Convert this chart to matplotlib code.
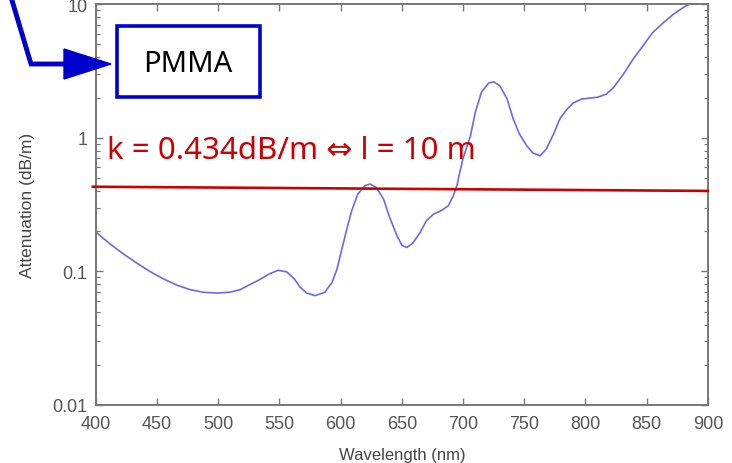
## PMMA 光纤衰减谱
import matplotlib
matplotlib.use('Agg')
import matplotlib.pyplot as plt
from matplotlib.ticker import FixedLocator, FixedFormatter, LogLocator, NullFormatter
from matplotlib.patches import Rectangle
from matplotlib.lines import Line2D

# 波长 (nm) / 衰减 (dB/m) —— 从图上读出来的点
wavelength = [400, 411, 422, 433, 444, 455, 466, 477, 488, 499, 510, 518, 525, 533, 542,
              549, 556, 562, 567, 572, 579, 587, 593, 597, 601, 605, 609, 614, 620, 624,
              629, 635, 640, 646, 650, 654, 659, 665, 670, 676, 682, 688, 692, 695, 697,
              700, 706, 710, 715, 721, 725, 730, 736, 741, 746, 752, 757, 763, 768, 774,
              779, 785, 790, 797, 804, 810, 817, 823, 831, 839, 847, 855, 864, 872, 880,
              885, 892]
attenuation = [0.197, 0.162, 0.136, 0.116, 0.100, 0.088, 0.079, 0.073, 0.0697, 0.0688, 0.0700, 0.073, 0.079, 0.086, 0.096,
               0.102, 0.099, 0.088, 0.076, 0.069, 0.0658, 0.0697, 0.0829, 0.104, 0.147, 0.207, 0.284, 0.379, 0.438, 0.451,
               0.425, 0.348, 0.254, 0.185, 0.157, 0.151, 0.163, 0.196, 0.239, 0.269, 0.284, 0.310, 0.368, 0.438, 0.535,
               0.70, 1.03, 1.55, 2.19, 2.57, 2.62, 2.45, 1.95, 1.38, 1.07, 0.871, 0.769, 0.733, 0.823, 1.07,
               1.38, 1.64, 1.82, 1.95, 1.98, 2.01, 2.12, 2.38, 2.99, 3.88, 4.88, 6.14, 7.30, 8.42, 9.45,
               10.0, 11.0]

# k 线两端
k_x = [397.5, 900]
k_y = [0.43, 0.40]

x_ticks = [400, 450, 500, 550, 600, 650, 700, 750, 800, 850, 900]
y_ticks = [0.01, 0.1, 1, 10]
y_labels = ['0.01', '0.1', '1', '10']

fig = plt.figure(figsize=(7.32, 4.64), dpi=100)
ax = fig.add_axes([0.131, 0.125, 0.836, 0.864])

ax.plot(wavelength, attenuation, color='#6a6ae8', linewidth=1.2)
ax.plot(k_x, k_y, color='#cc0000', linewidth=1.9, clip_on=False, zorder=3)

ax.set_yscale('log')
ax.set_xlim(400, 900)
ax.set_ylim(0.01, 10)

gray = '#555555'
ax.xaxis.set_major_locator(FixedLocator(x_ticks))
ax.yaxis.set_major_locator(FixedLocator(y_ticks))
ax.yaxis.set_major_formatter(FixedFormatter(y_labels))
ax.yaxis.set_minor_locator(LogLocator(base=10, subs=range(2, 10)))
ax.yaxis.set_minor_formatter(NullFormatter())

ax.tick_params(which='both', direction='in', top=True, right=True, colors='#777777',
               labelcolor=gray, labelsize=13)
ax.tick_params(which='major', length=5, width=1)
ax.tick_params(which='minor', length=3, width=0.8)
for lab in ax.get_xticklabels() + ax.get_yticklabels():
    lab.set_family('Liberation Sans')
ax.tick_params(axis='x', pad=7)
ax.tick_params(axis='y', pad=6)

for s in ax.spines.values():
    s.set_color('#777777')
    s.set_linewidth(1.4)

ax.set_xlabel('Wavelength (nm)', fontsize=12, color='#444444', family='Liberation Sans')
ax.set_ylabel('Attenuation (dB/m)', fontsize=12.5, color='#444444', family='Liberation Sans')
ax.xaxis.set_label_coords(0.5, -0.105)
ax.yaxis.set_label_coords(-0.099, 0.5)

## 红色说明文字
ax.text(409, 0.705, 'k = 0.434dB/m \u21d4 l = 10 m', color='#cc0000', fontsize=22.5,
        family=['Noto Sans', 'DejaVu Sans'], va='baseline', ha='left')

## PMMA 框 + 箭头 (像素坐标)
W, H = 732, 464
def px(x, y):
    return x / W, 1 - y / H

blue = '#0000cc'
x0, y0 = px(117, 98)
box = Rectangle((x0, y0), (260 - 117) / W, (98 - 27) / H, transform=fig.transFigure,
                fill=False, edgecolor=blue, linewidth=2.6, zorder=5)
fig.add_artist(box)
fig.text(*px(188, 64), 'PMMA', fontsize=21, color='black', family='Noto Sans',
         ha='center', va='center')

p1, p2, p3 = px(11, -2), px(31, 65), px(66, 65)
fig.add_artist(Line2D([p1[0], p2[0], p3[0]], [p1[1], p2[1], p3[1]], transform=fig.transFigure,
                      color=blue, linewidth=3.5, solid_joinstyle='miter'))
# 箭头三角
tri = plt.Polygon([px(64, 50), px(111, 65), px(64, 80)], closed=True,
                  transform=fig.transFigure, color=blue)
fig.add_artist(tri)

plt.savefig('out.png', dpi=100)
